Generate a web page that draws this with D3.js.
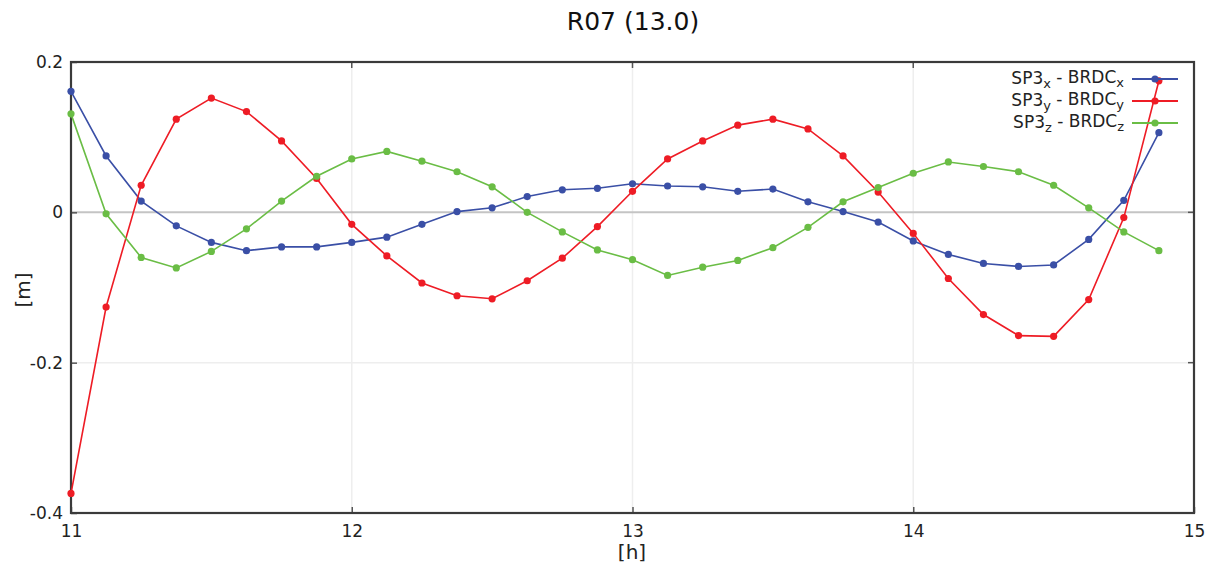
<!DOCTYPE html>
<html><head><meta charset="utf-8">
<script src="https://cdn.jsdelivr.net/npm/d3@7/dist/d3.min.js"></script>
<style>body{margin:0;background:#fff}svg{display:block;font-family:"DejaVu Sans",Verdana,sans-serif}</style>
</head><body><svg id="c" width="1213" height="566"></svg>
<script>
const title = "R07 (13.0)";
const hours = d3.range(32).map(i => 11 + i * 0.125);
const dx = [0.161,0.075,0.015,-0.018,-0.040,-0.051,-0.046,-0.046,-0.040,-0.033,-0.016,0.001,0.006,0.021,0.030,0.032,0.038,0.035,0.034,0.028,0.031,0.014,0.001,-0.013,-0.038,-0.056,-0.068,-0.072,-0.070,-0.036,0.016,0.106];
const dy = [-0.374,-0.126,0.036,0.124,0.152,0.134,0.095,0.045,-0.016,-0.058,-0.094,-0.111,-0.115,-0.091,-0.061,-0.019,0.028,0.071,0.095,0.116,0.124,0.111,0.075,0.027,-0.028,-0.088,-0.136,-0.164,-0.165,-0.116,-0.007,0.175];
const dz = [0.131,-0.002,-0.060,-0.074,-0.052,-0.022,0.015,0.048,0.071,0.081,0.068,0.054,0.034,0.000,-0.026,-0.050,-0.063,-0.084,-0.073,-0.064,-0.047,-0.020,0.014,0.033,0.052,0.067,0.061,0.054,0.036,0.006,-0.026,-0.051];
const xTicks = [11,12,13,14,15];
const yTicks = [-0.4,-0.2,0,0.2];
const yTickLabels = ["-0.4","-0.2","0","0.2"];
const seriesNames = [["x","x"],["y","y"],["z","z"]];
const colors = ["#3a4fa6","#ee1c25","#6abd45"];

const svg = d3.select("#c");
const L=71,R=1194,T=62,B=513;
const x = d3.scaleLinear().domain([11,15]).range([L,R]);
const y = d3.scaleLinear().domain([-0.4,0.2]).range([B,T]);

// grid
svg.append("g").selectAll("line").data(xTicks.slice(1,-1)).join("line")
  .attr("x1",d=>x(d)).attr("x2",d=>x(d)).attr("y1",T).attr("y2",B)
  .attr("stroke","#eeeeee").attr("stroke-width",1.5);
svg.append("g").selectAll("line").data(yTicks.filter(d=>d!==0&&d!==-0.4&&d!==0.2)).join("line")
  .attr("x1",L).attr("x2",R).attr("y1",d=>y(d)).attr("y2",d=>y(d))
  .attr("stroke","#eeeeee").attr("stroke-width",1.5);
// zero line
svg.append("line").attr("x1",L).attr("x2",R).attr("y1",y(0)).attr("y2",y(0))
  .attr("stroke","#c4c4c4").attr("stroke-width",2);

// axes
const xa = svg.append("g").attr("transform",`translate(0,${B})`)
  .call(d3.axisBottom(x).tickValues(xTicks).tickSize(-6).tickPadding(12).tickFormat(d3.format("d")));
const ya = svg.append("g").attr("transform",`translate(${L},0)`)
  .call(d3.axisLeft(y).tickValues(yTicks).tickSize(-6).tickPadding(8).tickFormat((d,i)=>yTickLabels[i]));
[xa,ya].forEach(a=>{a.select(".domain").remove();a.selectAll("line").attr("stroke","#555").attr("stroke-width",1.5);
  a.selectAll("text").attr("font-size",17).attr("fill","#222").attr("font-family","'DejaVu Sans',Verdana,sans-serif");});
ya.selectAll("text").attr("dy","0.32em");
// right ticks
svg.append("g").selectAll("line").data(yTicks).join("line")
  .attr("x1",R).attr("x2",R-6).attr("y1",d=>y(d)).attr("y2",d=>y(d)).attr("stroke","#555").attr("stroke-width",1.5);
svg.append("g").selectAll("line").data(xTicks).join("line")
  .attr("x1",d=>x(d)).attr("x2",d=>x(d)).attr("y1",T).attr("y2",T+6).attr("stroke","#555").attr("stroke-width",1.5);
// frame
svg.append("rect").attr("x",L).attr("y",T).attr("width",R-L).attr("height",B-T)
  .attr("fill","none").attr("stroke","#3a3a3a").attr("stroke-width",2.2);

// series
const data = [dx,dy,dz];
const line = d3.line().x((d,i)=>x(hours[i])).y(d=>y(d));
data.forEach((s,k)=>{
  const g = svg.append("g");
  g.append("path").datum(s).attr("d",line).attr("fill","none").attr("stroke",colors[k]).attr("stroke-width",1.6);
  g.selectAll("circle").data(s).join("circle").attr("cx",(d,i)=>x(hours[i])).attr("cy",d=>y(d)).attr("r",3.6).attr("fill",colors[k]);
});

// legend
const lg = svg.append("g");
seriesNames.forEach((n,k)=>{
  const yy = 79 + k*22;
  const t = lg.append("text").attr("x",1124).attr("y",yy).attr("dy","0.32em").attr("text-anchor","end")
    .attr("font-size",17).attr("fill","#222");
  t.append("tspan").text("SP3");
  t.append("tspan").attr("font-size",13).attr("dy","0.3em").text(n[0]);
  t.append("tspan").attr("dy","-0.3em").text(" - BRDC");
  t.append("tspan").attr("font-size",13).attr("dy","0.3em").text(n[1]);
  lg.append("line").attr("x1",1132).attr("x2",1178).attr("y1",yy).attr("y2",yy).attr("stroke",colors[k]).attr("stroke-width",1.8);
  lg.append("circle").attr("cx",1155).attr("cy",yy).attr("r",3.6).attr("fill",colors[k]);
});

// titles
svg.append("text").attr("x",633).attr("y",30).attr("text-anchor","middle").attr("font-size",25).attr("fill","#111").text(title);
svg.append("text").attr("x",632).attr("y",559).attr("text-anchor","middle").attr("font-size",20).attr("fill","#222").text("[h]");
svg.append("text").attr("transform","translate(30,290) rotate(-90)").attr("text-anchor","middle").attr("font-size",20).attr("fill","#222").text("[m]");
</script></body></html>
